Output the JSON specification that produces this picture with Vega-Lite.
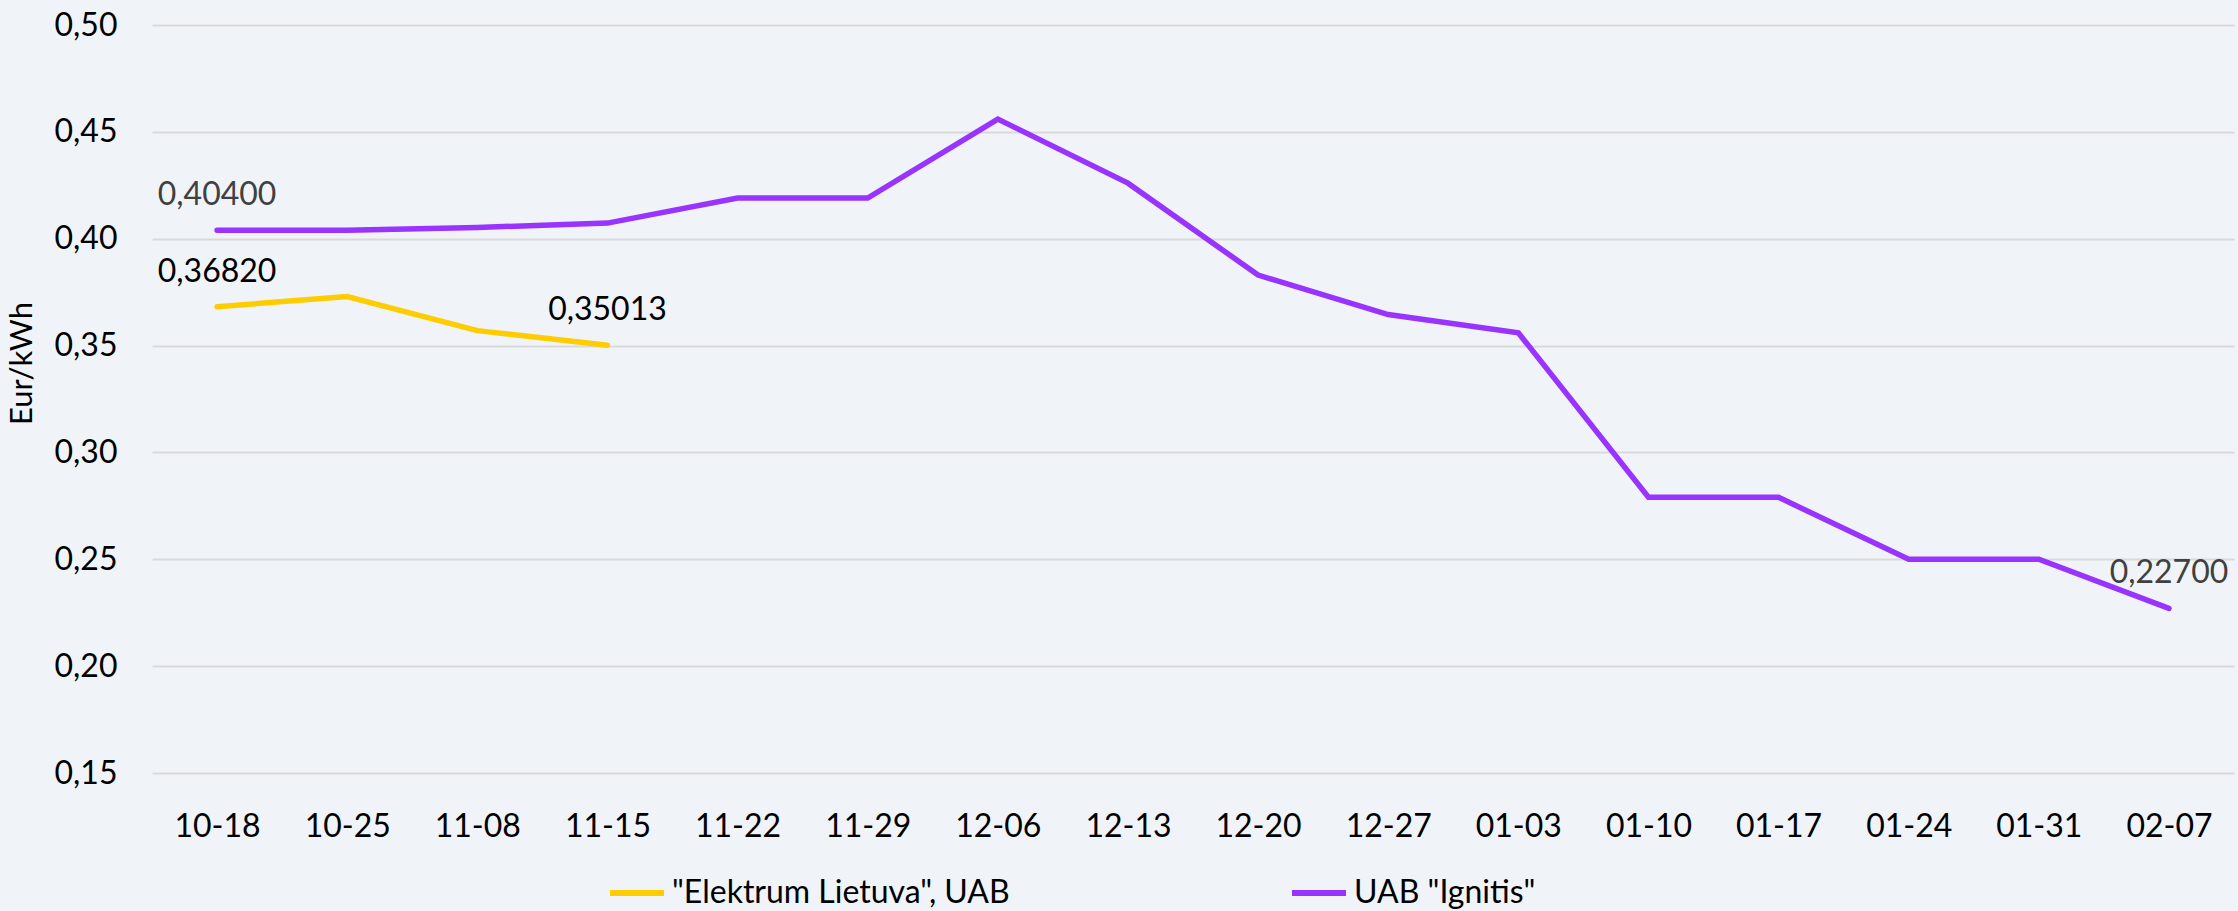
{
  "$schema": "https://vega.github.io/schema/vega-lite/v6.json",
  "autosize": "none",
  "width": 2082,
  "height": 748,
  "padding": {"left": 152, "top": 25, "right": 4, "bottom": 138},
  "background": "#F0F4F8",
  "config": {
    "view": {"stroke": null},
    "font": "Lato",
    "axis": {"labelFont": "Lato", "titleFont": "Lato", "labelColor": "#000000", "titleColor": "#000000"},
    "legend": {"labelFont": "Lato"}
  },
  "data": {
    "values": [
      {"series": "\"Elektrum Lietuva\", UAB", "date": "10-18", "price": 0.3682, "label": "0,36820"},
      {"series": "\"Elektrum Lietuva\", UAB", "date": "10-25", "price": 0.3729},
      {"series": "\"Elektrum Lietuva\", UAB", "date": "11-08", "price": 0.357},
      {"series": "\"Elektrum Lietuva\", UAB", "date": "11-15", "price": 0.35013, "label": "0,35013"},
      {"series": "UAB \"Ignitis\"", "date": "10-18", "price": 0.404, "label": "0,40400"},
      {"series": "UAB \"Ignitis\"", "date": "10-25", "price": 0.404},
      {"series": "UAB \"Ignitis\"", "date": "11-08", "price": 0.4053},
      {"series": "UAB \"Ignitis\"", "date": "11-15", "price": 0.4073},
      {"series": "UAB \"Ignitis\"", "date": "11-22", "price": 0.419},
      {"series": "UAB \"Ignitis\"", "date": "11-29", "price": 0.419},
      {"series": "UAB \"Ignitis\"", "date": "12-06", "price": 0.456},
      {"series": "UAB \"Ignitis\"", "date": "12-13", "price": 0.426},
      {"series": "UAB \"Ignitis\"", "date": "12-20", "price": 0.383},
      {"series": "UAB \"Ignitis\"", "date": "12-27", "price": 0.3645},
      {"series": "UAB \"Ignitis\"", "date": "01-03", "price": 0.356},
      {"series": "UAB \"Ignitis\"", "date": "01-10", "price": 0.279},
      {"series": "UAB \"Ignitis\"", "date": "01-17", "price": 0.279},
      {"series": "UAB \"Ignitis\"", "date": "01-24", "price": 0.25},
      {"series": "UAB \"Ignitis\"", "date": "01-31", "price": 0.25},
      {"series": "UAB \"Ignitis\"", "date": "02-07", "price": 0.227, "label": "0,22700"}
    ]
  },
  "encoding": {
    "x": {
      "field": "date", "type": "ordinal",
      "scale": {"domain": ["10-18","10-25","11-08","11-15","11-22","11-29","12-06","12-13","12-20","12-27","01-03","01-10","01-17","01-24","01-31","02-07"], "padding": 0.5},
      "axis": {"title": null, "labelAngle": 0, "labelFontSize": 32, "labelPadding": 38, "domain": false, "ticks": false, "grid": false}
    },
    "y": {
      "field": "price", "type": "quantitative",
      "scale": {"domain": [0.15, 0.5], "nice": false, "zero": false},
      "axis": {
        "title": "Eur/kWh", "titleFontSize": 31, "titleFontWeight": "normal",
        "titleX": -130, "titleY": 338, "titleAlign": "center", "titleBaseline": "middle", "titleAngle": -90,
        "values": [0.15, 0.2, 0.25, 0.3, 0.35, 0.4, 0.45, 0.5],
        "labelExpr": "replace(format(datum.value, '.2f'), '.', ',')",
        "labelFontSize": 32, "labelPadding": 35,
        "domain": false, "ticks": false,
        "grid": true, "gridColor": "#D9D9D9", "gridWidth": 2
      }
    }
  },
  "layer": [
    {
      "mark": {"type": "line", "strokeWidth": 5.5, "strokeJoin": "miter", "strokeCap": "round"},
      "encoding": {
        "color": {
          "field": "series", "type": "nominal",
          "scale": {"domain": ["\"Elektrum Lietuva\", UAB", "UAB \"Ignitis\""], "range": ["#FFCC00", "#9933FF"]},
          "legend": {
            "title": null, "orient": "none", "direction": "horizontal",
            "legendX": 455, "legendY": 838,
            "symbolType": "stroke", "symbolSize": 2916, "symbolStrokeWidth": 6,
            "labelFontSize": 32, "labelColor": "#000000", "labelOffset": 5, "labelLimit": 600,
            "columnPadding": 270
          }
        }
      }
    },
    {
      "transform": [{"filter": "datum.label != null"}],
      "mark": {"type": "text", "fontSize": 32, "align": "center", "baseline": "alphabetic", "dy": -25},
      "encoding": {
        "text": {"field": "label"},
        "color": {"condition": {"test": "datum.series === 'UAB \"Ignitis\"'", "value": "#404040"}, "value": "#000000"}
      }
    }
  ]
}
